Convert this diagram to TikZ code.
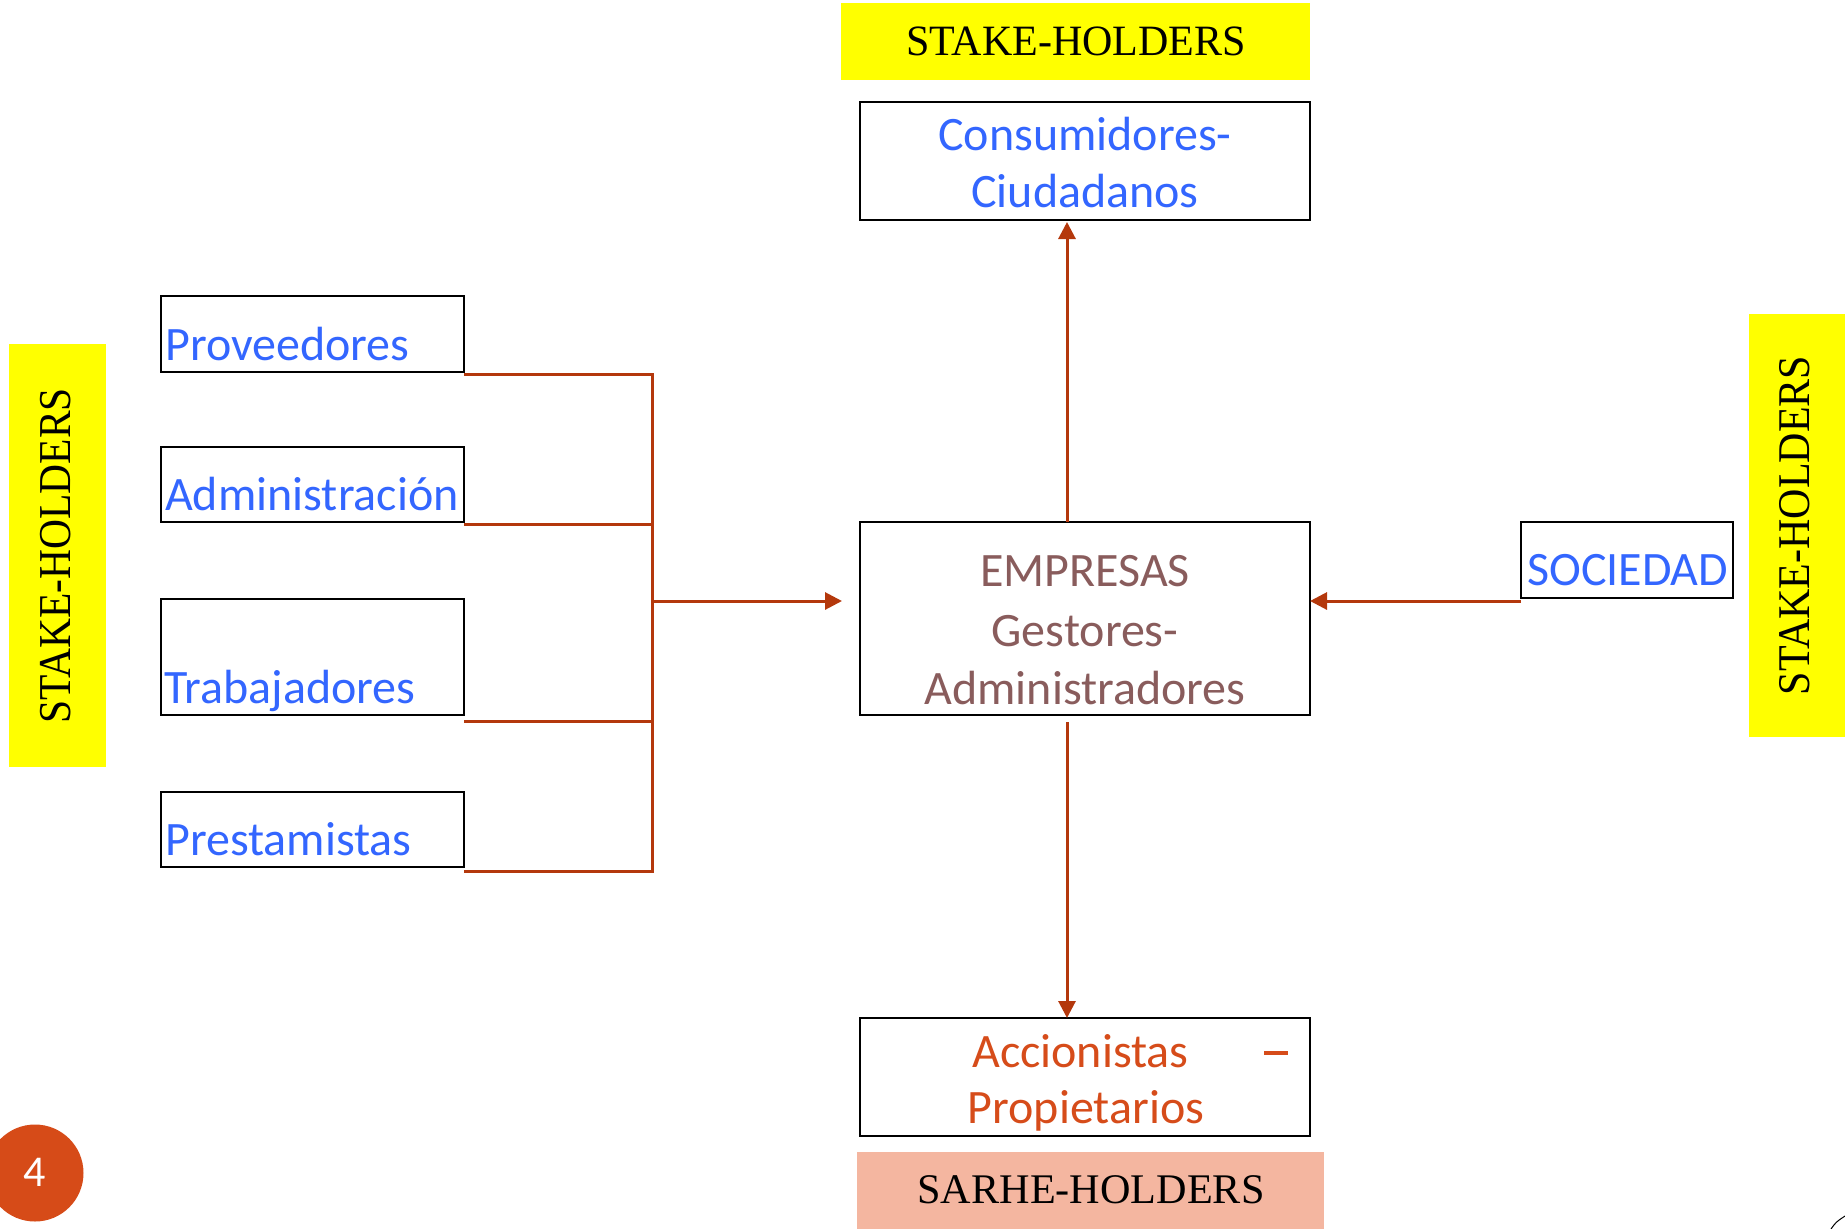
\documentclass[tikz,border=0pt]{standalone}
\usepackage{fontspec}
\usetikzlibrary{arrows.meta}
\newfontfamily\carlfont{Carlito}
\newfontfamily\timesfont{Liberation Serif}
\definecolor{txtblue}{RGB}{51,102,255}
\definecolor{txtbrown}{RGB}{137,92,92}
\definecolor{txtorange}{RGB}{214,76,26}
\definecolor{connc}{RGB}{180,56,12}
\definecolor{circc}{RGB}{214,75,24}
\definecolor{holdyellow}{RGB}{255,255,0}
\definecolor{holdsalmon}{RGB}{244,182,160}
\tikzset{
  box/.style={draw=black, line width=2.5pt, inner sep=0pt, outer sep=0pt},
  holder/.style={inner sep=0pt, outer sep=0pt},
  htext/.style={inner sep=0pt, font=\timesfont\fontsize{42}{44}\selectfont},
  btext/.style={inner sep=0pt, anchor=base, font=\carlfont\fontsize{48}{58}\selectfont},
  conn/.style={draw=connc, line width=3pt},
  tip/.style={-{Triangle[length=17pt,width=17pt]}}
}
\begin{document}
\begin{tikzpicture}[x=1pt,y=-1pt]
\useasboundingbox (0,0) rectangle (1845,1229);

% holder bands
\node[holder, fill=holdyellow, minimum width=469pt, minimum height=77pt] (shtop) at (1075.5,41.5) {};
\node[htext] (shtoptxt) at (1076,41) {\scalebox{1}[1.03]{STAKE-HOLDERS}};
\node[holder, fill=holdyellow, minimum width=97pt, minimum height=423pt] (shleft) at (57.5,555.5) {};
\node[htext, rotate=90, font=\timesfont\fontsize{41.5}{44}\selectfont] (shlefttxt) at (56,556) {\scalebox{1}[1.1]{STAKE-HOLDERS}};
\node[holder, fill=holdyellow, minimum width=98pt, minimum height=423pt] (shright) at (1798,525.5) {};
\node[htext, rotate=90, font=\timesfont\fontsize{42}{44}\selectfont] (shrighttxt) at (1795,525.5) {\scalebox{1}[1.08]{STAKE-HOLDERS}};
\node[holder, fill=holdsalmon, minimum width=467pt, minimum height=79pt] (shbot) at (1090.5,1191.5) {};
\node[inner sep=0pt, font=\timesfont\fontsize{42.2}{44}\selectfont] (shbottxt) at (1091,1190) {SARHE-HOLDERS};

% boxes
\node[box, minimum width=450pt, minimum height=118pt] (cons) at (1085,161) {};
\node[btext, txtblue] (cons1) at (1085,150) {Consumidores-};
\node[btext, txtblue] (cons2) at (1085,207) {Ciudadanos};

\node[box, minimum width=450pt, minimum height=193pt] (emp) at (1085,618.5) {};
\node[btext, txtbrown] (emp1) at (1085,586) {EMPRESAS};
\node[btext, txtbrown] (emp2) at (1085,646) {Gestores-};
\node[btext, txtbrown] (emp3) at (1085,704) {Administradores};

\node[box, minimum width=450pt, minimum height=118pt] (acc) at (1085,1077) {};
\node[btext, txtorange, anchor=base west] (acc1) at (972,1067) {Accionistas};
\node[fill=txtorange, inner sep=0pt, minimum width=24pt, minimum height=4pt] (acc2) at (1276,1053) {};
\node[btext, txtorange] (acc3) at (1086,1123) {Propietarios};

\node[box, minimum width=212pt, minimum height=76pt] (soc) at (1627,560) {};
\node[btext, txtblue, anchor=base west] (soctxt) at (1527,585) {SOCIEDAD};

\node[box, minimum width=303pt, minimum height=76pt] (prov) at (312.5,334) {};
\node[btext, txtblue, anchor=base west] (provtxt) at (165,360) {Proveedores};
\node[box, minimum width=303pt, minimum height=75pt] (adm) at (312.5,484.5) {};
\node[btext, txtblue, anchor=base west] (admtxt) at (165,510) {Administración};
\node[box, minimum width=303pt, minimum height=116pt] (trab) at (312.5,657) {};
\node[btext, txtblue, anchor=base west] (trabtxt) at (164,703) {Trabajadores};
\node[box, minimum width=303pt, minimum height=75pt] (prest) at (312.5,829.5) {};
\node[btext, txtblue, anchor=base west] (presttxt) at (165,855) {Prestamistas};

% page number
\node[circle, fill=circc, minimum size=97pt, inner sep=0pt] (pnum) at (35,1173) {};
\node[inner sep=0pt, text=white, font=\carlfont\fontsize{44}{46}\selectfont] (pnumtxt) at (35,1172) {4};

% connectors
\coordinate (j) at (652,601);
\coordinate (ax) at (1067,0);
\draw[conn] ([yshift=-2pt]prov.south east) -- ([yshift=-2pt]prov.south east -| j)
  -- ([yshift=-4pt]prest.south east -| j) -- ([yshift=-4pt]prest.south east);
\draw[conn] ([yshift=-2pt]adm.south east) -- ([yshift=-2pt]adm.south east -| j);
\draw[conn] ([yshift=-6pt]trab.south east) -- ([yshift=-6pt]trab.south east -| j);
\draw[conn, tip, shorten >=18pt] (j) -- (j -| emp.west);
\draw[conn, tip, shorten >=2pt] (ax |- emp.north) -- (ax |- cons.south);
\draw[conn, tip, shorten <=7pt] (ax |- emp.south) -- (ax |- acc.north);
\draw[conn, tip] (soc.west |- j) -- (emp.east |- j);

% corner mark
\coordinate (cm1) at (1831,1229);
\coordinate (cm2) at (1845,1216);
\draw[black, line width=1pt] (cm1) .. controls (1836,1222) .. (cm2);
\end{tikzpicture}
\end{document}
